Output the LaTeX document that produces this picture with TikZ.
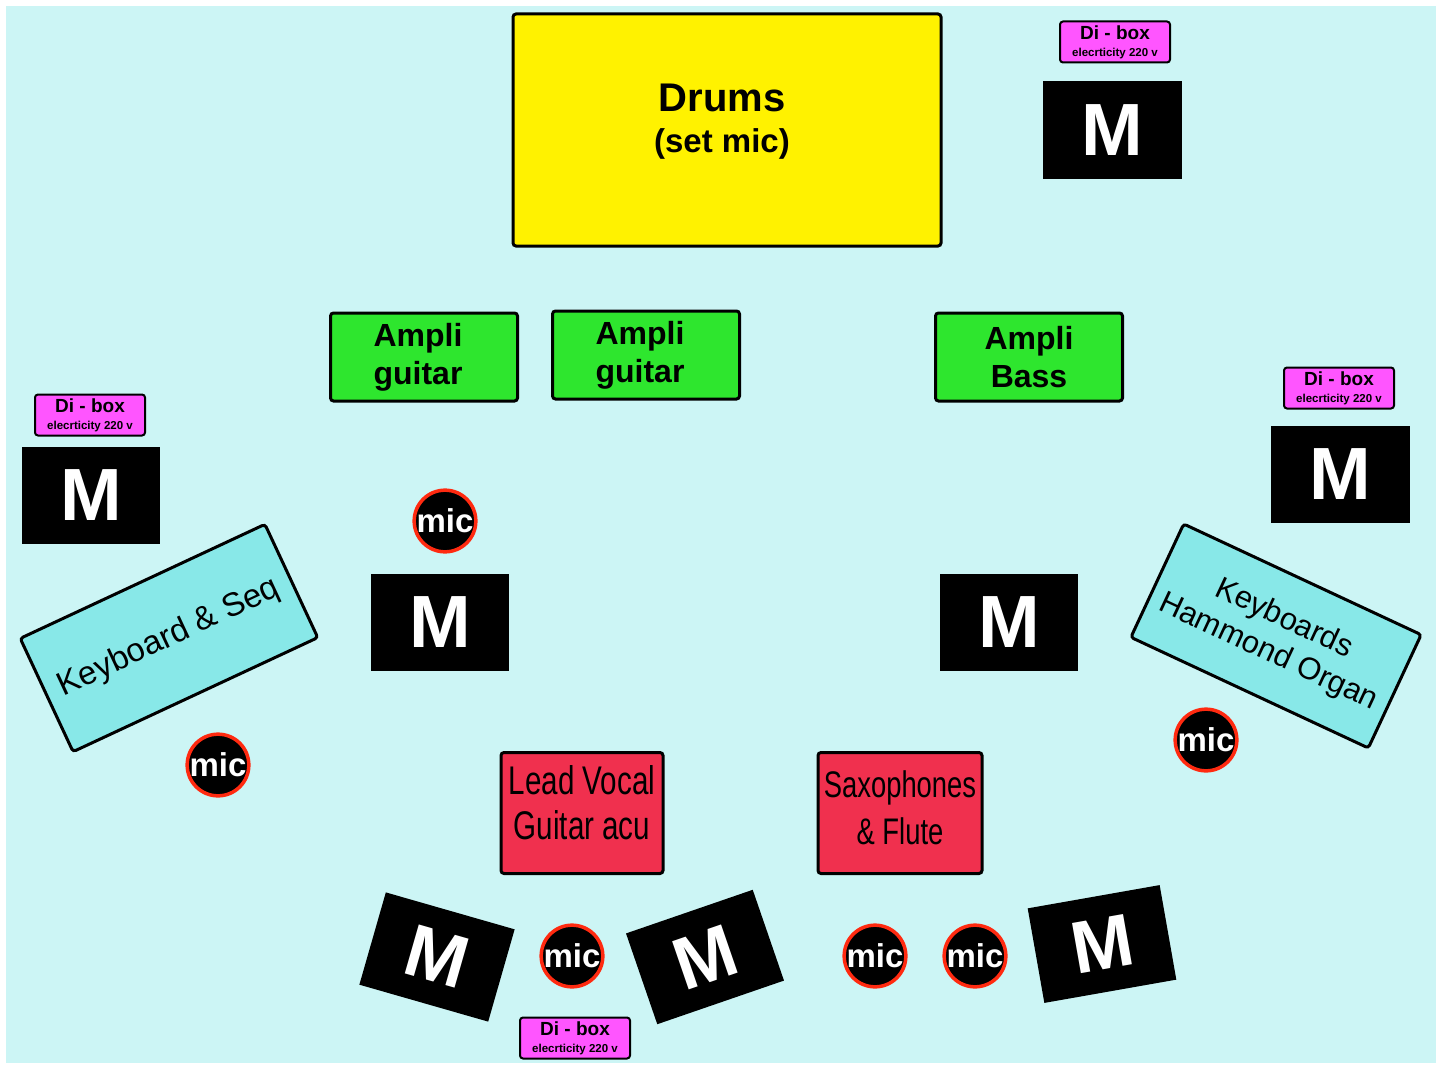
\documentclass[tikz,border=0pt]{standalone}
\usepackage{fontspec}
\setmainfont{Liberation Sans}
\newfontfamily\narrowfont[FakeStretch=0.74]{Liberation Sans}
\definecolor{stage}{HTML}{CCF5F5}
\definecolor{ampgreen}{HTML}{2EE62E}
\definecolor{dimagenta}{HTML}{FF55FF}
\definecolor{vocalred}{HTML}{F0304E}
\definecolor{keycyan}{HTML}{88E8E8}
\definecolor{micred}{HTML}{FF2A10}
\newcommand{\elec}{\\{\fontsize{11.5}{11.5}\selectfont elecrticity 220 v}}

\begin{document}
\begin{tikzpicture}[x=1pt,y=-1pt]
  \tikzstyle{Block}=[draw=black,line width=3pt,rounded corners=3pt,inner sep=0pt,align=center]
  \tikzstyle{Monitor}=[fill=black,text=white,minimum width=138pt,minimum height=97pt,inner sep=0pt,font=\fontsize{74}{74}\selectfont\bfseries]
  \tikzstyle{Mic}=[circle,fill=black,draw=micred,line width=3.5pt,minimum size=60pt,inner sep=0pt,text=white,font=\fontsize{33}{33}\selectfont\bfseries]
  \tikzstyle{DiBox}=[Block,fill=dimagenta,line width=2pt,minimum width=110pt,minimum height=41pt,font=\fontsize{19}{17}\selectfont\bfseries]
  \tikzstyle{Ampli}=[Block,fill=ampgreen,minimum width=187pt,minimum height=88pt,font=\fontsize{32}{38}\selectfont\bfseries]
  \tikzstyle{Keys}=[Block,fill=keycyan,minimum width=270pt,minimum height=125pt,font=\fontsize{33}{38}\selectfont]
  \tikzstyle{Front}=[Block,fill=vocalred,minimum width=162pt,minimum height=121pt]
  \tikzstyle{FrontText}=[align=center,font=\fontsize{40}{45}\selectfont\narrowfont]

  \useasboundingbox (0,0) rectangle (1443,1065);
  \fill[stage] (6,6) rectangle (1436,1063);

  \node[Block,fill=yellow,minimum width=428pt,minimum height=232pt,
    label={[align=center,xshift=-5pt,yshift=8pt,font=\fontsize{40}{41}\selectfont\bfseries]center:{Drums\\{\fontsize{33}{33}\selectfont(set mic)}}}] (drums) at (727,130) {};

  \node[DiBox] (diboxtr) at (1115,42) {Di - box\elec};
  \node[Monitor,minimum width=139pt] (montr) at (1112,130) {M};

  \node[Ampli] (ampgtone) at (424,357) {\hspace*{-12pt}Ampli\\\hspace*{-12pt}guitar};
  \node[Ampli] (ampgttwo) at (646,355) {\hspace*{-12pt}Ampli\\\hspace*{-12pt}guitar};
  \node[Ampli] (ampbass) at (1029,357) {Ampli\\Bass};

  \node[DiBox] (diboxl) at (90,415) {Di - box\elec};
  \node[Monitor] (monl) at (91,495) {M};
  \node[DiBox] (diboxr) at (1339,388) {Di - box\elec};
  \node[Monitor,minimum width=139pt] (monr) at (1340,474) {M};

  \node[Mic] (micc) at (445,521) {mic};
  \node[Monitor] (moncl) at (440,622) {M};
  \node[Monitor] (moncr) at (1009,622) {M};

  \node[Keys,rotate=25] (keyseq) at (169,638) {Keyboard \& Seq};
  \node[Mic] (micl) at (218,765) {mic};
  \node[Keys,rotate=-25,minimum width=262pt,font=\fontsize{31}{37}\selectfont] (keyham) at (1276,636) {Keyboards\\Hammond Organ};
  \node[Mic] (micr) at (1206,740) {mic};

  \node[Front,label={[FrontText,yshift=10pt]center:{Lead Vocal\\Guitar acu}}] (vocal) at (582,813) {};
  \node[Front,minimum width=164pt,label={[FrontText,yshift=5pt,font=\fontsize{37}{47}\selectfont\narrowfont]center:{Saxophones\\\& Flute}}] (sax) at (900,813) {};

  \node[Monitor,minimum width=134pt,minimum height=96pt,rotate=-16] (monbl) at (437,957) {M};
  \node[Mic] (micv) at (572,956) {mic};
  \node[Monitor,minimum width=134pt,minimum height=96pt,rotate=19] (monbc) at (705,957) {M};
  \node[DiBox] (diboxb) at (575,1038) {Di - box\elec};
  \node[Mic] (micsaxone) at (875,956) {mic};
  \node[Mic] (micsaxtwo) at (975,956) {mic};
  \node[Monitor,minimum width=134pt,minimum height=96pt,rotate=10] (monbr) at (1102,944) {M};
\end{tikzpicture}
\end{document}
